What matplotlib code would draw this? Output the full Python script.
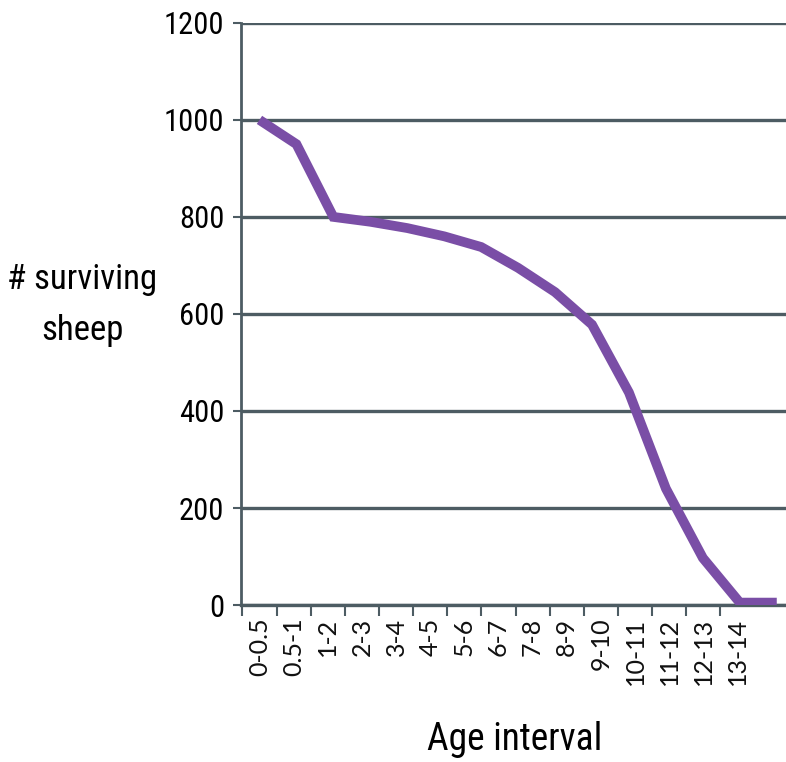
import numpy as np
import matplotlib.pyplot as plt

# Survivorship of a sheep cohort
age_intervals = ['0-0.5', '0.5-1', '1-2', '2-3', '3-4', '4-5', '5-6', '6-7',
                 '7-8', '8-9', '9-10', '10-11', '11-12', '12-13', '13-14']
surviving = [1000, 950, 800, 790, 777, 760, 738, 695, 645, 578, 438, 240, 97, 5, 5]

plt.rcParams['font.family'] = ['Roboto Condensed', 'DejaVu Sans']

fig = plt.figure(figsize=(7.86, 7.62), dpi=100)
ax = fig.add_axes([0.3066, 0.206, 0.6934, 0.764])

grid_col = '#4d5c63'
line_col = '#7a4ea6'

x = np.arange(len(surviving))
ax.plot(x, surviving, color=line_col, lw=7, solid_joinstyle='miter',
        solid_capstyle='butt', zorder=3)

ax.set_ylim(0, 1200)
ax.set_xlim(-0.5, 14.25)
ax.set_yticks(np.arange(0, 1201, 200))
ax.yaxis.grid(True, color=grid_col, lw=2.4)
ax.set_axisbelow(True)

# category labels sit on a slightly tighter spacing than the line points
k = 0.924
lab_pos = k * x
ax.set_xticks(lab_pos)
ax.set_xticklabels(age_intervals, rotation=90, fontsize=18,
                   family=['Lato', 'DejaVu Sans'], color='#111111')
ax.set_xticks(k * (x - 0.5), minor=True)
ax.tick_params(axis='x', which='major', length=0, pad=9)
ax.tick_params(axis='x', which='minor', length=8, width=1.5, color=grid_col)
ax.tick_params(axis='y', length=6, width=1.5, color=grid_col, labelsize=22, pad=6)

for s in ['top', 'right']:
    ax.spines[s].set_visible(False)
ax.spines['left'].set_color(grid_col)
ax.spines['left'].set_linewidth(2)
ax.spines['bottom'].set_color(grid_col)
ax.spines['bottom'].set_linewidth(2.4)

fig.text(0.105, 0.6, '# surviving\nsheep', ha='center', va='center',
         fontsize=25, linespacing=1.7)
fig.text(0.655, 0.03, 'Age interval', ha='center', va='center', fontsize=27)

fig.savefig('out.png', dpi=100)
